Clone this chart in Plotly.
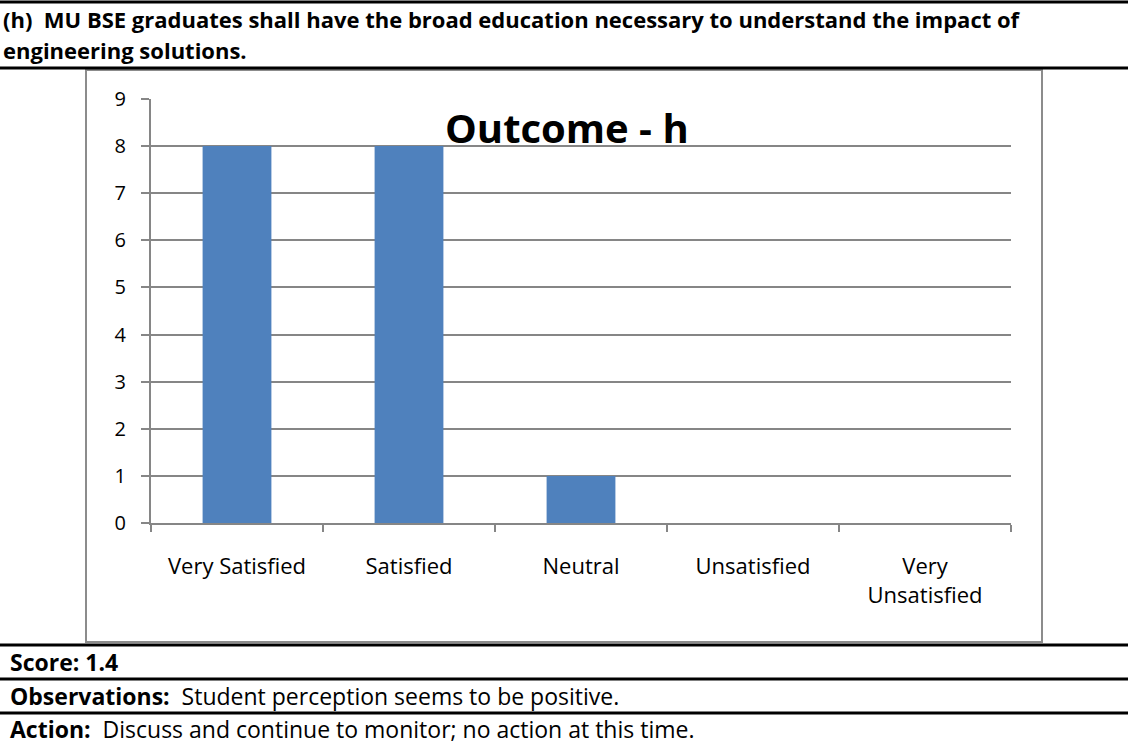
import plotly.graph_objects as go

categories = ["Very Satisfied", "Satisfied", "Neutral", "Unsatisfied", "Very<br>Unsatisfied"]
counts = [8, 8, 1, 0, 0]
y_ticks = list(range(0, 10))

header_line1 = "(h)  MU BSE graduates shall have the broad education necessary to understand the impact of"
header_line2 = "engineering solutions."
chart_title = "Outcome - h"
score_text = "<b>Score: 1.4</b>"
obs_text = "<b>Observations:</b>  Student perception seems to be positive."
action_text = "<b>Action:</b>  Discuss and continue to monitor; no action at this time."

W, H = 1128, 746
FONT = "'Open Sans', Lato, sans-serif"

def px(x):
    return x / W

def py(y):
    return 1 - y / H

fig = go.Figure()
fig.add_trace(go.Bar(
    x=categories, y=counts,
    marker=dict(color="#4F81BD", line=dict(width=0)),
    width=0.4,
    hoverinfo="skip",
))

fig.update_layout(
    width=W, height=H,
    autosize=False,
    margin=dict(l=0, r=0, t=0, b=0, pad=0, autoexpand=False),
    paper_bgcolor="white", plot_bgcolor="white",
    showlegend=False,
    font=dict(family=FONT, color="black"),
    xaxis=dict(
        domain=[px(151), px(1011)],
        type="category",
        automargin=False,
        showline=True, linecolor="#868686", linewidth=2,
        ticks="outside", tickson="boundaries", ticklen=7, tickcolor="#868686", tickwidth=2,
        tickfont=dict(size=22, family=FONT, color="black"),
        ticklabelstandoff=23,
        showgrid=False,
        fixedrange=True,
    ),
    yaxis=dict(
        domain=[py(523), py(99)],
        range=[0, 9],
        automargin=False,
        tickvals=y_ticks,
        showline=True, linecolor="#868686", linewidth=2,
        ticks="outside", ticklen=8, tickcolor="#868686", tickwidth=2,
        tickfont=dict(size=20, family=FONT, color="black"),
        showgrid=True, gridcolor="#868686", gridwidth=2,
        zeroline=False,
        ticklabelstandoff=11,
        fixedrange=True,
    ),
)

shapes = []
# chart border box
shapes.append(dict(type="rect", xref="paper", yref="paper",
                   x0=px(86), x1=px(1042), y0=py(642), y1=py(70),
                   line=dict(color="#8c8c8c", width=2), layer="below"))
# document horizontal rules
for yy in [2, 68, 645, 679, 713]:
    shapes.append(dict(type="line", xref="paper", yref="paper",
                       x0=0, x1=1, y0=py(yy), y1=py(yy),
                       line=dict(color="black", width=3)))
fig.update_layout(shapes=shapes)

ann = []
ann.append(dict(text="<b>" + header_line1 + "</b>", x=px(1), y=py(19), xref="paper", yref="paper",
                xanchor="left", yanchor="middle", showarrow=False,
                font=dict(size=22, family=FONT, color="black")))
ann.append(dict(text="<b>" + header_line2 + "</b>", x=px(1), y=py(50), xref="paper", yref="paper",
                xanchor="left", yanchor="middle", showarrow=False,
                font=dict(size=22, family=FONT, color="black")))
ann.append(dict(text="<b>" + chart_title + "</b>", x=px(567), y=py(127), xref="paper", yref="paper",
                xanchor="center", yanchor="middle", showarrow=False,
                font=dict(size=40, family=FONT, color="black")))
ann.append(dict(text=score_text, x=px(8), y=py(662), xref="paper", yref="paper",
                xanchor="left", yanchor="middle", showarrow=False,
                font=dict(size=23, family=FONT, color="black")))
ann.append(dict(text=obs_text, x=px(8), y=py(696), xref="paper", yref="paper",
                xanchor="left", yanchor="middle", showarrow=False,
                font=dict(size=23, family=FONT, color="black")))
ann.append(dict(text=action_text, x=px(8), y=py(729), xref="paper", yref="paper",
                xanchor="left", yanchor="middle", showarrow=False,
                font=dict(size=23, family=FONT, color="black")))
fig.update_layout(annotations=ann)

fig.write_html("out.html", config={"displayModeBar": False},
               post_script="document.body.style.margin='0';")
